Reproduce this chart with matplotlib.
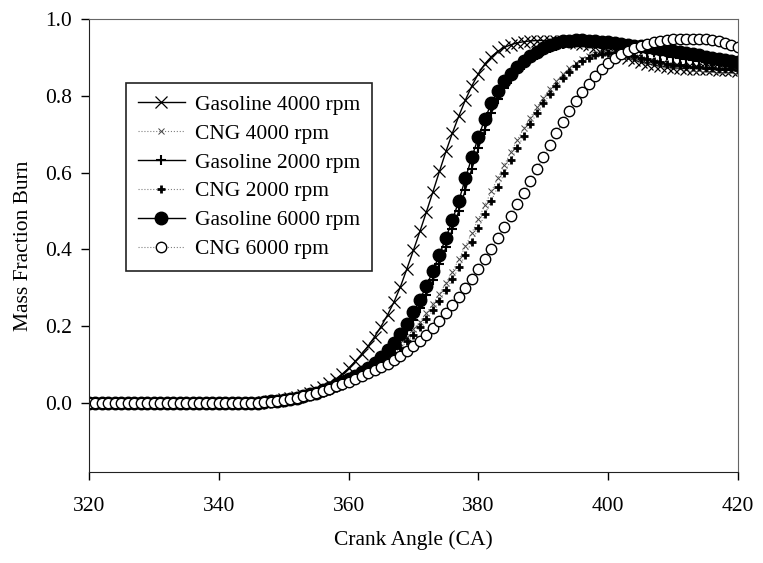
import numpy as np
import matplotlib
matplotlib.use('Agg')
import matplotlib.pyplot as plt

#Font Settings
plt.rcParams['font.family'] = ['Liberation Serif', 'DejaVu Serif']
plt.rcParams['font.size'] = 15.5

#Crank angle, one point per degree
crank_angle = np.arange(320, 421)

#Mass fraction burned for each fuel / engine speed
gasoline_4000 = [
    0, 0, 0, 0, 0, 0, 0, 0, 0, 0,
    0, 0, 0, 0, 0, 0, 0, 0, 0, 0,
    0, 0, 0, 0, 0, 0, 0.001, 0.002, 0.004, 0.006,
    0.009, 0.012, 0.016, 0.021, 0.027, 0.034, 0.042, 0.051, 0.062, 0.075,
    0.090, 0.108, 0.127, 0.148, 0.172, 0.199, 0.229, 0.263, 0.303, 0.350,
    0.398, 0.447, 0.498, 0.550, 0.603, 0.655, 0.703, 0.748, 0.789, 0.826,
    0.858, 0.883, 0.902, 0.916, 0.926, 0.933, 0.938, 0.941, 0.943, 0.944,
    0.944, 0.944, 0.943, 0.942, 0.940, 0.938, 0.935, 0.932, 0.928, 0.923,
    0.917, 0.911, 0.905, 0.899, 0.893, 0.888, 0.884, 0.880, 0.877, 0.875,
    0.873, 0.872, 0.871, 0.871, 0.870, 0.870, 0.869, 0.868, 0.867, 0.866,
    0.865]

cng_4000 = [
    0, 0, 0, 0, 0, 0, 0, 0, 0, 0,
    0, 0, 0, 0, 0, 0, 0, 0, 0, 0,
    0, 0, 0, 0, 0, 0, 0.001, 0.002, 0.003, 0.005,
    0.007, 0.009, 0.012, 0.015, 0.019, 0.024, 0.029, 0.035, 0.041, 0.048,
    0.056, 0.065, 0.074, 0.085, 0.097, 0.110, 0.124, 0.139, 0.155, 0.173,
    0.192, 0.212, 0.234, 0.258, 0.284, 0.312, 0.342, 0.374, 0.408, 0.443,
    0.479, 0.515, 0.551, 0.586, 0.620, 0.653, 0.685, 0.715, 0.743, 0.770,
    0.795, 0.818, 0.838, 0.856, 0.872, 0.885, 0.895, 0.903, 0.908, 0.911,
    0.912, 0.911, 0.908, 0.904, 0.900, 0.895, 0.891, 0.887, 0.883, 0.880,
    0.877, 0.875, 0.873, 0.871, 0.870, 0.869, 0.868, 0.867, 0.866, 0.865,
    0.864]

gasoline_2000 = [
    0, 0, 0, 0, 0, 0, 0, 0, 0, 0,
    0, 0, 0, 0, 0, 0, 0, 0, 0, 0,
    0, 0, 0, 0, 0, 0, 0.001, 0.002, 0.003, 0.005,
    0.007, 0.010, 0.013, 0.017, 0.021, 0.026, 0.031, 0.037, 0.043, 0.050,
    0.058, 0.066, 0.075, 0.085, 0.097, 0.111, 0.127, 0.145, 0.166, 0.190,
    0.217, 0.248, 0.282, 0.320, 0.361, 0.405, 0.452, 0.501, 0.555, 0.610,
    0.663, 0.712, 0.755, 0.791, 0.820, 0.844, 0.864, 0.881, 0.895, 0.907,
    0.917, 0.925, 0.931, 0.936, 0.939, 0.941, 0.942, 0.942, 0.941, 0.940,
    0.938, 0.935, 0.932, 0.929, 0.926, 0.922, 0.918, 0.914, 0.910, 0.906,
    0.902, 0.899, 0.896, 0.893, 0.891, 0.889, 0.887, 0.886, 0.885, 0.884,
    0.883]

cng_2000 = [
    0, 0, 0, 0, 0, 0, 0, 0, 0, 0,
    0, 0, 0, 0, 0, 0, 0, 0, 0, 0,
    0, 0, 0, 0, 0, 0, 0.001, 0.002, 0.003, 0.004,
    0.006, 0.008, 0.011, 0.014, 0.018, 0.022, 0.027, 0.032, 0.038, 0.045,
    0.052, 0.060, 0.069, 0.079, 0.090, 0.102, 0.115, 0.129, 0.144, 0.160,
    0.178, 0.197, 0.218, 0.241, 0.266, 0.293, 0.322, 0.353, 0.386, 0.420,
    0.455, 0.491, 0.527, 0.563, 0.598, 0.632, 0.665, 0.696, 0.726, 0.754,
    0.780, 0.804, 0.826, 0.846, 0.863, 0.878, 0.890, 0.899, 0.906, 0.910,
    0.912, 0.912, 0.910, 0.907, 0.903, 0.899, 0.895, 0.891, 0.887, 0.884,
    0.881, 0.879, 0.877, 0.875, 0.874, 0.873, 0.872, 0.871, 0.870, 0.869,
    0.868]

gasoline_6000 = [
    0, 0, 0, 0, 0, 0, 0, 0, 0, 0,
    0, 0, 0, 0, 0, 0, 0, 0, 0, 0,
    0, 0, 0, 0, 0, 0, 0.001, 0.002, 0.004, 0.006,
    0.008, 0.011, 0.014, 0.018, 0.022, 0.027, 0.033, 0.039, 0.046, 0.054,
    0.062, 0.071, 0.081, 0.092, 0.105, 0.120, 0.137, 0.157, 0.180, 0.206,
    0.236, 0.269, 0.305, 0.344, 0.386, 0.430, 0.476, 0.527, 0.585, 0.640,
    0.692, 0.740, 0.780, 0.812, 0.838, 0.858, 0.875, 0.890, 0.903, 0.914,
    0.924, 0.932, 0.938, 0.942, 0.944, 0.945, 0.945, 0.944, 0.943, 0.941,
    0.939, 0.937, 0.935, 0.933, 0.931, 0.929, 0.927, 0.925, 0.923, 0.920,
    0.917, 0.914, 0.911, 0.908, 0.905, 0.902, 0.899, 0.896, 0.893, 0.891,
    0.889]

cng_6000 = [
    0, 0, 0, 0, 0, 0, 0, 0, 0, 0,
    0, 0, 0, 0, 0, 0, 0, 0, 0, 0,
    0, 0, 0, 0, 0, 0, 0.001, 0.002, 0.003, 0.005,
    0.007, 0.010, 0.013, 0.017, 0.021, 0.026, 0.031, 0.037, 0.043, 0.049,
    0.055, 0.062, 0.069, 0.077, 0.085, 0.093, 0.102, 0.112, 0.123, 0.135,
    0.148, 0.162, 0.178, 0.195, 0.214, 0.234, 0.255, 0.277, 0.300, 0.324,
    0.349, 0.375, 0.402, 0.430, 0.459, 0.488, 0.518, 0.548, 0.578, 0.609,
    0.640, 0.671, 0.702, 0.732, 0.760, 0.786, 0.810, 0.832, 0.852, 0.870,
    0.885, 0.898, 0.909, 0.918, 0.925, 0.931, 0.936, 0.940, 0.943, 0.945,
    0.947, 0.948, 0.949, 0.949, 0.948, 0.947, 0.945, 0.942, 0.938, 0.933,
    0.927]

fig = plt.figure(figsize=(7.63, 5.63), dpi=100)
ax = fig.add_axes([0.1166, 0.1616, 0.8506, 0.8046])

#Plotting each run
ax.plot(crank_angle, gasoline_4000, color='black', lw=1, marker='x',
        ms=8, mew=0.9, label='Gasoline 4000 rpm')
ax.plot(crank_angle, cng_4000, color='gray', lw=0.8, ls=':', marker='x',
        ms=4, mew=0.7, mec='#444444', label='CNG 4000 rpm')
ax.plot(crank_angle, gasoline_2000, color='black', lw=1, marker='+',
        ms=7, mew=1.5, label='Gasoline 2000 rpm')
ax.plot(crank_angle, cng_2000, color='gray', lw=0.8, ls=':', marker='+',
        ms=6, mew=2, mec='black', label='CNG 2000 rpm')
ax.plot(crank_angle, gasoline_6000, color='black', lw=1, marker='o',
        ms=9, mfc='black', mec='black', label='Gasoline 6000 rpm')
ax.plot(crank_angle, cng_6000, color='gray', lw=0.8, ls=':', marker='o',
        ms=7.5, mfc='white', mec='black', mew=1, label='CNG 6000 rpm')

ax.set_xlim(320, 420)
ax.set_ylim(-0.18, 1.0)
ax.set_xticks([320, 340, 360, 380, 400, 420])
ax.set_yticks([0.0, 0.2, 0.4, 0.6, 0.8, 1.0])
ax.yaxis.set_major_formatter(matplotlib.ticker.FormatStrFormatter('%.1f'))
ax.tick_params(direction='out', length=6, width=1)
ax.tick_params(axis='x', pad=12)
ax.tick_params(axis='y', pad=6)
for side in ['left', 'bottom']:
    ax.spines[side].set_color('#222222')
for side in ['top', 'right']:
    ax.spines[side].set_color('#666666')

ax.set_xlabel('Crank Angle (CA)', labelpad=10)
ax.set_ylabel('Mass Fraction Burn', labelpad=9)

leg = ax.legend(loc='upper left', bbox_to_anchor=(0.057, 0.859),
                borderaxespad=0, fancybox=False, framealpha=1,
                edgecolor='#222222', handlelength=2.2, handletextpad=0.45,
                labelspacing=0.41, borderpad=0.55, fontsize=15.5)
leg.get_frame().set_linewidth(1.2)

plt.savefig('out.png', dpi=100)
